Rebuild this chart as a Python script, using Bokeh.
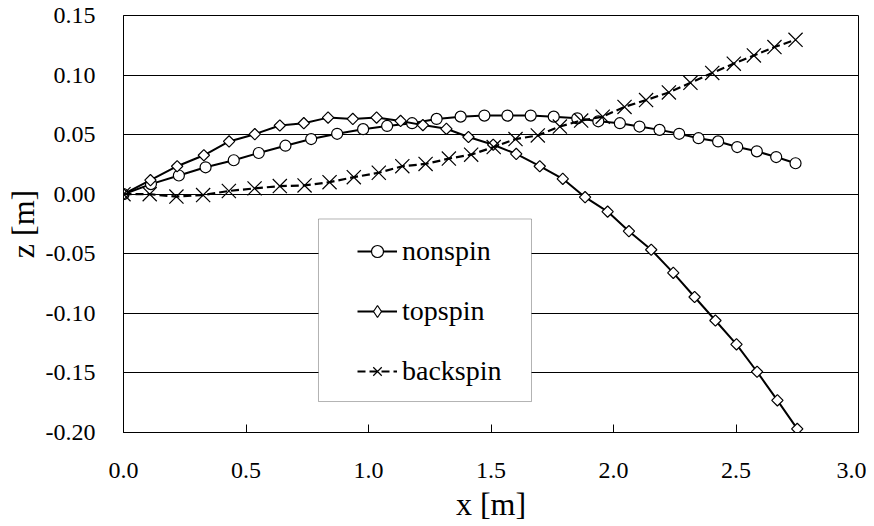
import numpy as np
from bokeh.plotting import figure
from bokeh.models import Range1d, FixedTicker, Legend, LegendItem, BoxAnnotation
from bokeh.embed import file_html
from bokeh.resources import INLINE

FONT = "Liberation Serif"

# ---- data ----
nonspin_x = [0.0, 0.112, 0.226, 0.335, 0.450, 0.552, 0.661, 0.766, 0.872, 0.978,
             1.076, 1.178, 1.278, 1.376, 1.473, 1.567, 1.662, 1.756, 1.852, 1.938,
             2.026, 2.106, 2.188, 2.268, 2.347, 2.427, 2.505, 2.585, 2.664, 2.743]
nonspin_z = [0.0, 0.0085, 0.0157, 0.0226, 0.0285, 0.0346, 0.0407, 0.0463, 0.0507, 0.0546,
             0.0573, 0.0596, 0.0632, 0.0651, 0.0660, 0.0660, 0.0660, 0.0651, 0.0637, 0.0612,
             0.0596, 0.0568, 0.0540, 0.0507, 0.0470, 0.0443, 0.0396, 0.0360, 0.0312, 0.0260]

topspin_x = [0.0, 0.110, 0.219, 0.328, 0.431, 0.536, 0.638, 0.736, 0.835, 0.936,
             1.033, 1.131, 1.222, 1.318, 1.408, 1.509, 1.603, 1.699, 1.793, 1.884,
             1.976, 2.063, 2.154, 2.244, 2.331, 2.416, 2.502, 2.586, 2.669, 2.750]
topspin_z = [0.0, 0.0118, 0.0235, 0.0327, 0.0443, 0.0504, 0.0577, 0.0596, 0.0643, 0.0632,
             0.0643, 0.0615, 0.0580, 0.0549, 0.0480, 0.0415, 0.0338, 0.0235, 0.0129, -0.0025,
             -0.0146, -0.0310, -0.0466, -0.0660, -0.0863, -0.1060, -0.1260, -0.1490, -0.1730, -0.1970]

backspin_x = [0.0, 0.107, 0.216, 0.325, 0.430, 0.535, 0.638, 0.739, 0.841, 0.940,
              1.042, 1.138, 1.233, 1.328, 1.419, 1.511, 1.600, 1.691, 1.781, 1.868,
              1.956, 2.045, 2.133, 2.226, 2.314, 2.403, 2.491, 2.573, 2.657, 2.743]
backspin_z = [0.0, 0.0, -0.0020, -0.0007, 0.0027, 0.0049, 0.0068, 0.0074, 0.0101, 0.0143,
              0.0180, 0.0235, 0.0254, 0.0299, 0.0332, 0.0396, 0.0463, 0.0493, 0.0568, 0.0618,
              0.0651, 0.0733, 0.0790, 0.0854, 0.0935, 0.1018, 0.1096, 0.1165, 0.1235, 0.1296]

x_ticks = [0.0, 0.5, 1.0, 1.5, 2.0, 2.5, 3.0]
x_tick_labels = ["0.0", "0.5", "1.0", "1.5", "2.0", "2.5", "3.0"]
y_ticks = [0.15, 0.10, 0.05, 0.0, -0.05, -0.10, -0.15, -0.20]
y_tick_labels = ["0.15", "0.10", "0.05", "0.00", "-0.05", "-0.10", "-0.15", "-0.20"]

series_names = ["nonspin", "topspin", "backspin"]
x_title = "x [m]"
y_title = "z [m]"

# ---- figure ----
p = figure(width=866, height=524, output_backend="svg", toolbar_location=None,
           x_range=Range1d(0.0, 3.0), y_range=Range1d(-0.20, 0.15),
           min_border_left=123, min_border_right=8, min_border_top=15, min_border_bottom=91)
p.background_fill_color = "white"
p.border_fill_color = "white"
p.outline_line_color = "black"
p.outline_line_width = 1

p.xgrid.visible = False
p.ygrid.ticker = FixedTicker(ticks=y_ticks)
p.ygrid.grid_line_color = "black"
p.ygrid.grid_line_width = 1

# axes
p.xaxis.ticker = FixedTicker(ticks=x_ticks)
p.xaxis.major_label_overrides = {t: l for t, l in zip(x_ticks, x_tick_labels)}
p.yaxis.ticker = FixedTicker(ticks=y_ticks)
p.yaxis.major_label_overrides = {t: l for t, l in zip(y_ticks, y_tick_labels)}
for ax in (p.xaxis, p.yaxis):
    ax.axis_line_color = "black"
    ax.axis_line_width = 1
    ax.major_label_text_font = FONT
    ax.major_label_text_font_size = "24px"
    ax.major_label_text_color = "black"
    ax.minor_tick_line_color = None
    ax.major_tick_line_color = "black"
    ax.axis_label_text_font = FONT
    ax.axis_label_text_font_size = "32px"
    ax.axis_label_text_font_style = "normal"
    ax.axis_label_text_color = "black"
p.xaxis.major_tick_in = 8
p.xaxis.major_tick_out = 0
p.xaxis.major_label_standoff = 30
p.xaxis.axis_label = x_title
p.xaxis.axis_label_standoff = 5
p.yaxis.major_tick_in = 0
p.yaxis.major_tick_out = 0
p.yaxis.major_label_standoff = 28
p.yaxis.axis_label = y_title
p.yaxis.axis_label_standoff = 2

# ---- series ----
l_non = p.line(nonspin_x, nonspin_z, line_color="black", line_width=2)
s_non = p.scatter(nonspin_x, nonspin_z, marker="circle", size=11,
                  fill_color="white", line_color="black", line_width=1.2)
l_top = p.line(topspin_x, topspin_z, line_color="black", line_width=2)
s_top = p.scatter(topspin_x, topspin_z, marker="square", angle=np.pi / 4, size=8,
                  fill_color="white", line_color="black", line_width=1.2)
l_back = p.line(backspin_x, backspin_z, line_color="black", line_width=2.2, line_dash="8 4")
s_back = p.scatter(backspin_x, backspin_z, marker="x", size=20,
                   line_color="black", line_width=1.2)

# legend-only proxy so the legend shows a diamond (legend ignores marker angle)
top_proxy = p.scatter([np.nan], [np.nan], marker="diamond", size=12,
                      fill_color="white", line_color="black", line_width=1.2)

# ---- legend frame + legend ----
legend_box = BoxAnnotation(left=0.7959, right=1.6653, top=-0.0208, bottom=-0.1740,
                           fill_color="white", fill_alpha=1.0,
                           line_color="black", line_width=1)
p.add_layout(legend_box)

legend = Legend(items=[
    LegendItem(label=series_names[0], renderers=[l_non, s_non]),
    LegendItem(label=series_names[1], renderers=[l_top, top_proxy]),
    LegendItem(label=series_names[2], renderers=[l_back, s_back]),
], location=(234, 45))
legend.padding = 0
legend.margin = 0
legend.spacing = 28
legend.glyph_width = 40
legend.glyph_height = 30
legend.label_height = 32
legend.label_standoff = 5
legend.label_text_font = FONT
legend.label_text_font_size = "28px"
legend.label_text_color = "black"
legend.border_line_alpha = 0
legend.background_fill_alpha = 0
p.add_layout(legend, "center")

open("out.html", "w").write(file_html(p, INLINE))
